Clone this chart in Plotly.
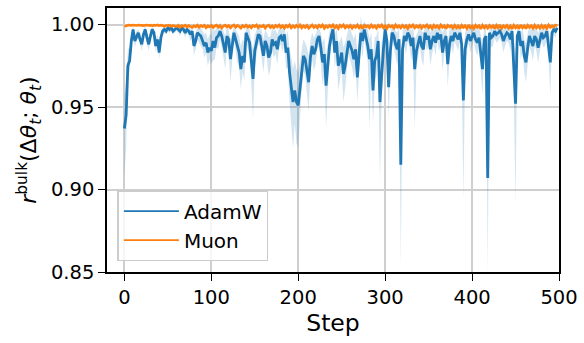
import plotly.graph_objects as go

steps = list(range(0, 500, 2))

adamw_mean = [
    0.937, 0.945, 0.975, 0.978, 0.990, 0.997, 0.990, 0.993, 0.995, 0.991,
    0.988, 0.994, 0.997, 0.992, 0.988, 0.993, 0.997, 0.995, 0.987, 0.991,
    0.983, 0.992, 0.996, 0.997, 0.996, 0.998, 0.997, 0.998, 0.996, 0.997,
    0.998, 0.997, 0.996, 0.998, 0.997, 0.995, 0.997, 0.996, 0.994, 0.996,
    0.987, 0.990, 0.995, 0.994, 0.993, 0.990, 0.987, 0.989, 0.983, 0.986,
    0.984, 0.990, 0.986, 0.992, 0.993, 0.996, 0.993, 0.988, 0.983, 0.993,
    0.991, 0.979, 0.988, 0.995, 0.991, 0.987, 0.983, 0.973, 0.981, 0.977,
    0.995, 0.992, 0.989, 0.978, 0.967, 0.984, 0.989, 0.994, 0.993, 0.988,
    0.981, 0.990, 0.987, 0.980, 0.983, 0.991, 0.988, 0.989, 0.985, 0.992,
    0.993, 0.990, 0.994, 0.983, 0.986, 0.971, 0.962, 0.953, 0.960, 0.953,
    0.951, 0.962, 0.973, 0.981, 0.979, 0.972, 0.965, 0.980, 0.987, 0.982,
    0.985, 0.991, 0.993, 0.986, 0.977, 0.982, 0.963, 0.975, 0.987, 0.993,
    0.997, 0.983, 0.990, 0.975, 0.978, 0.983, 0.970, 0.975, 0.983, 0.990,
    0.987, 0.984, 0.979, 0.985, 0.968, 0.980, 0.995, 0.990, 0.997, 0.992,
    0.987, 0.979, 0.985, 0.960, 0.978, 0.981, 0.990, 0.953, 0.973, 0.985,
    0.997, 0.990, 0.962, 0.984, 0.995, 0.993, 0.988, 0.985, 0.991, 0.915,
    0.985, 0.993, 0.990, 0.995, 0.993, 0.987, 0.992, 0.973, 0.984, 0.989,
    0.993, 0.987, 0.985, 0.995, 0.991, 0.993, 0.985, 0.990, 0.993, 0.989,
    0.995, 0.991, 0.994, 0.983, 0.990, 0.993, 0.976, 0.988, 0.993, 0.990,
    0.995, 0.993, 0.991, 0.995, 0.988, 0.954, 0.985, 0.991, 0.994, 0.990,
    0.993, 0.995, 0.991, 0.989, 0.992, 0.984, 0.973, 0.991, 0.993, 0.907,
    0.995, 0.992, 0.993, 0.996, 0.994, 0.995, 0.996, 0.994, 0.990, 0.993,
    0.995, 0.994, 0.991, 0.996, 0.973, 0.952, 0.993, 0.996, 0.987, 0.990,
    0.981, 0.977, 0.986, 0.993, 0.990, 0.987, 0.993, 0.991, 0.986, 0.990,
    0.995, 0.992, 0.993, 0.996, 0.988, 0.977, 0.995, 0.997, 0.996, 0.998,
]

adamw_band_below = [
    0.030, 0.020, 0.008, 0.006, 0.004, 0.003, 0.004, 0.003, 0.003, 0.004,
    0.004, 0.003, 0.003, 0.004, 0.004, 0.003, 0.003, 0.003, 0.004, 0.003,
    0.004, 0.003, 0.002, 0.002, 0.002, 0.002, 0.002, 0.002, 0.002, 0.002,
    0.002, 0.002, 0.003, 0.002, 0.002, 0.003, 0.002, 0.003, 0.004, 0.003,
    0.006, 0.005, 0.004, 0.005, 0.006, 0.005, 0.007, 0.006, 0.008, 0.007,
    0.008, 0.012, 0.007, 0.006, 0.008, 0.005, 0.006, 0.008, 0.010, 0.006,
    0.008, 0.014, 0.008, 0.005, 0.007, 0.010, 0.009, 0.012, 0.010, 0.011,
    0.005, 0.006, 0.008, 0.014, 0.024, 0.010, 0.008, 0.006, 0.006, 0.008,
    0.010, 0.007, 0.008, 0.011, 0.010, 0.007, 0.008, 0.007, 0.009, 0.006,
    0.005, 0.007, 0.005, 0.010, 0.012, 0.018, 0.022, 0.028, 0.020, 0.025,
    0.026, 0.018, 0.012, 0.009, 0.010, 0.014, 0.018, 0.010, 0.008, 0.010,
    0.009, 0.006, 0.006, 0.010, 0.014, 0.012, 0.026, 0.015, 0.009, 0.006,
    0.004, 0.010, 0.008, 0.015, 0.012, 0.010, 0.017, 0.014, 0.010, 0.008,
    0.009, 0.010, 0.012, 0.010, 0.015, 0.012, 0.006, 0.010, 0.006, 0.008,
    0.010, 0.042, 0.012, 0.020, 0.014, 0.012, 0.008, 0.048, 0.016, 0.010,
    0.005, 0.008, 0.020, 0.010, 0.006, 0.007, 0.009, 0.010, 0.008, 0.062,
    0.010, 0.006, 0.008, 0.005, 0.006, 0.009, 0.007, 0.036, 0.010, 0.008,
    0.006, 0.009, 0.010, 0.005, 0.007, 0.006, 0.010, 0.008, 0.006, 0.008,
    0.005, 0.007, 0.006, 0.011, 0.008, 0.006, 0.014, 0.009, 0.006, 0.008,
    0.005, 0.006, 0.007, 0.005, 0.008, 0.061, 0.010, 0.007, 0.005, 0.007,
    0.006, 0.005, 0.007, 0.008, 0.006, 0.010, 0.016, 0.007, 0.006, 0.057,
    0.005, 0.006, 0.006, 0.004, 0.005, 0.005, 0.004, 0.005, 0.007, 0.006,
    0.005, 0.005, 0.007, 0.004, 0.016, 0.061, 0.006, 0.004, 0.008, 0.007,
    0.010, 0.012, 0.009, 0.006, 0.007, 0.009, 0.006, 0.007, 0.009, 0.007,
    0.005, 0.006, 0.006, 0.004, 0.008, 0.020, 0.005, 0.003, 0.004, 0.002,
]

adamw_band_above = [
    0.020, 0.020, 0.010, 0.008, 0.004, 0.002, 0.004, 0.003, 0.002, 0.004,
    0.004, 0.003, 0.002, 0.003, 0.004, 0.003, 0.002, 0.002, 0.004, 0.003,
    0.006, 0.003, 0.002, 0.002, 0.002, 0.002, 0.002, 0.001, 0.002, 0.002,
    0.001, 0.002, 0.002, 0.001, 0.002, 0.003, 0.002, 0.003, 0.003, 0.003,
    0.006, 0.005, 0.003, 0.004, 0.005, 0.006, 0.007, 0.006, 0.008, 0.008,
    0.010, 0.008, 0.010, 0.006, 0.006, 0.005, 0.006, 0.008, 0.010, 0.006,
    0.006, 0.012, 0.008, 0.004, 0.006, 0.008, 0.010, 0.014, 0.010, 0.012,
    0.004, 0.006, 0.008, 0.012, 0.018, 0.010, 0.008, 0.005, 0.006, 0.008,
    0.010, 0.007, 0.008, 0.012, 0.010, 0.007, 0.008, 0.008, 0.009, 0.006,
    0.006, 0.007, 0.005, 0.010, 0.010, 0.014, 0.018, 0.020, 0.018, 0.020,
    0.020, 0.016, 0.012, 0.010, 0.010, 0.014, 0.016, 0.010, 0.008, 0.010,
    0.009, 0.006, 0.005, 0.009, 0.012, 0.010, 0.018, 0.014, 0.009, 0.006,
    0.004, 0.010, 0.008, 0.014, 0.012, 0.010, 0.016, 0.014, 0.010, 0.008,
    0.010, 0.010, 0.012, 0.010, 0.016, 0.012, 0.010, 0.008, 0.005, 0.008,
    0.010, 0.012, 0.010, 0.020, 0.014, 0.012, 0.008, 0.022, 0.016, 0.010,
    0.004, 0.008, 0.018, 0.010, 0.005, 0.006, 0.008, 0.010, 0.008, 0.030,
    0.010, 0.006, 0.008, 0.004, 0.006, 0.009, 0.007, 0.018, 0.010, 0.008,
    0.006, 0.009, 0.010, 0.004, 0.007, 0.006, 0.010, 0.008, 0.006, 0.008,
    0.004, 0.007, 0.005, 0.012, 0.008, 0.006, 0.014, 0.009, 0.006, 0.008,
    0.004, 0.006, 0.007, 0.005, 0.008, 0.030, 0.010, 0.007, 0.005, 0.007,
    0.006, 0.004, 0.007, 0.008, 0.006, 0.010, 0.014, 0.007, 0.006, 0.040,
    0.004, 0.006, 0.006, 0.004, 0.005, 0.005, 0.004, 0.005, 0.007, 0.006,
    0.005, 0.005, 0.007, 0.004, 0.016, 0.030, 0.006, 0.004, 0.008, 0.007,
    0.010, 0.012, 0.009, 0.006, 0.007, 0.009, 0.006, 0.007, 0.009, 0.007,
    0.004, 0.006, 0.006, 0.004, 0.008, 0.014, 0.005, 0.003, 0.004, 0.002,
]

muon_mean = [
    0.9988, 0.9993, 0.9995, 0.9996, 0.9994, 0.9997, 0.9995, 0.9994, 0.9997, 0.9995,
    0.9996, 0.9993, 0.9995, 0.9997, 0.9994, 0.9996, 0.9993, 0.9996, 0.9994, 0.9997,
    0.9993, 0.9996, 0.9994, 0.9989, 0.9995, 0.9992, 0.9996, 0.9988, 0.9994, 0.9991,
    0.9987, 0.9995, 0.9984, 0.9993, 0.9988, 0.9996, 0.9985, 0.9993, 0.9989, 0.9982,
    0.9992, 0.9986, 0.9996, 0.9983, 0.9993, 0.9987, 0.9995, 0.9980, 0.9991, 0.9985,
    0.9995, 0.9982, 0.9990, 0.9996, 0.9984, 0.9993, 0.9979, 0.9991, 0.9996, 0.9985,
    0.9993, 0.9980, 0.9991, 0.9997, 0.9983, 0.9994, 0.9988, 0.9978, 0.9993, 0.9985,
    0.9996, 0.9983, 0.9991, 0.9980, 0.9994, 0.9987, 0.9997, 0.9981, 0.9992, 0.9986,
    0.9994, 0.9978, 0.9991, 0.9996, 0.9982, 0.9992, 0.9980, 0.9994, 0.9985, 0.9997,
    0.9982, 0.9992, 0.9978, 0.9994, 0.9985, 0.9997, 0.9980, 0.9992, 0.9983, 0.9995,
    0.9984, 0.9997, 0.9980, 0.9992, 0.9983, 0.9995, 0.9978, 0.9991, 0.9997, 0.9982,
    0.9992, 0.9980, 0.9995, 0.9985, 0.9997, 0.9977, 0.9992, 0.9983, 0.9995, 0.9985,
    0.9997, 0.9980, 0.9992, 0.9976, 0.9995, 0.9985, 0.9997, 0.9980, 0.9992, 0.9983,
    0.9995, 0.9978, 0.9992, 0.9983, 0.9997, 0.9980, 0.9992, 0.9975, 0.9995, 0.9985,
    0.9992, 0.9980, 0.9997, 0.9983, 0.9992, 0.9978, 0.9995, 0.9985, 0.9997, 0.9980,
    0.9992, 0.9976, 0.9995, 0.9985, 0.9992, 0.9978, 0.9997, 0.9983, 0.9992, 0.9980,
    0.9995, 0.9983, 0.9992, 0.9976, 0.9995, 0.9985, 0.9997, 0.9980, 0.9992, 0.9983,
    0.9995, 0.9978, 0.9992, 0.9985, 0.9997, 0.9980, 0.9992, 0.9976, 0.9995, 0.9983,
    0.9992, 0.9978, 0.9997, 0.9983, 0.9992, 0.9975, 0.9995, 0.9985, 0.9992, 0.9978,
    0.9995, 0.9980, 0.9992, 0.9975, 0.9995, 0.9983, 0.9992, 0.9976, 0.9997, 0.9980,
    0.9992, 0.9976, 0.9995, 0.9983, 0.9992, 0.9973, 0.9995, 0.9980, 0.9992, 0.9978,
    0.9995, 0.9983, 0.9992, 0.9975, 0.9995, 0.9980, 0.9997, 0.9976, 0.9992, 0.9983,
    0.9995, 0.9978, 0.9992, 0.9973, 0.9995, 0.9980, 0.9992, 0.9976, 0.9997, 0.9980,
    0.9992, 0.9975, 0.9995, 0.9983, 0.9992, 0.9976, 0.9995, 0.9980, 0.9992, 0.9978,
    0.9995, 0.9980, 0.9992, 0.9976, 0.9997, 0.9983, 0.9992, 0.9985, 0.9997, 0.9993,
]

x_ticks = [0, 100, 200, 300, 400, 500]
y_ticks = [0.85, 0.90, 0.95, 1.00]
series_names = ["AdamW", "Muon"]
colors = ["#1f77b4", "#ff7f0e"]

lower = [m - d for m, d in zip(adamw_mean, adamw_band_below)]
upper = [m + d for m, d in zip(adamw_mean, adamw_band_above)]

FONT = "DejaVu Sans"
fig = go.Figure()
fig.add_trace(go.Scatter(x=steps, y=lower, mode="lines", line=dict(width=0),
                         showlegend=False, hoverinfo="skip"))
fig.add_trace(go.Scatter(x=steps, y=upper, mode="lines", line=dict(width=0),
                         fill="tonexty", fillcolor="rgba(31,119,180,0.2)",
                         showlegend=False, hoverinfo="skip"))
fig.add_trace(go.Scatter(x=steps, y=adamw_mean, mode="lines",
                         line=dict(color=colors[0], width=2.8), showlegend=False))
fig.add_trace(go.Scatter(x=steps, y=muon_mean, mode="lines",
                         line=dict(color=colors[1], width=2.6), showlegend=False))
# legend entries
for name, c in zip(series_names, colors):
    fig.add_trace(go.Scatter(x=[None], y=[None], mode="lines", name=name,
                             line=dict(color=c, width=1.8)))

axis_common = dict(
    showline=True, linecolor="black", linewidth=1.5, mirror=True,
    ticks="outside", ticklen=7, tickwidth=1.3, tickcolor="black",
    showgrid=True, gridcolor="#cfcfcf", gridwidth=1.5, zeroline=False,
    tickfont=dict(family=FONT, size=19.5, color="black"),
)

fig.update_layout(
    width=584, height=343,
    margin=dict(l=107, r=20, t=6, b=71),
    paper_bgcolor="white", plot_bgcolor="white",
    font=dict(family=FONT, color="black"),
    xaxis=dict(range=[-20, 500], tickvals=x_ticks,
               title=dict(text="Step", font=dict(family=FONT, size=23.5), standoff=6),
               **axis_common),
    yaxis=dict(range=[0.85, 1.01], tickvals=y_ticks, tickformat=".2f",
               title=dict(text="<i>r</i><sup>bulk</sup>(Δ<i>θ</i><sub><i>t</i></sub>; <i>θ</i><sub><i>t</i></sub>)",
                          font=dict(family=FONT, size=22), standoff=8),
               **axis_common),
    legend=dict(x=0.023, y=0.31, xanchor="left", yanchor="top",
                traceorder="normal",
                bgcolor="rgba(255,255,255,0.8)", bordercolor="#cccccc", borderwidth=1.5,
                font=dict(family=FONT, size=20, color="black"),
                itemwidth=55, tracegroupgap=4),
    showlegend=True,
)

fig.write_html("out.html")
